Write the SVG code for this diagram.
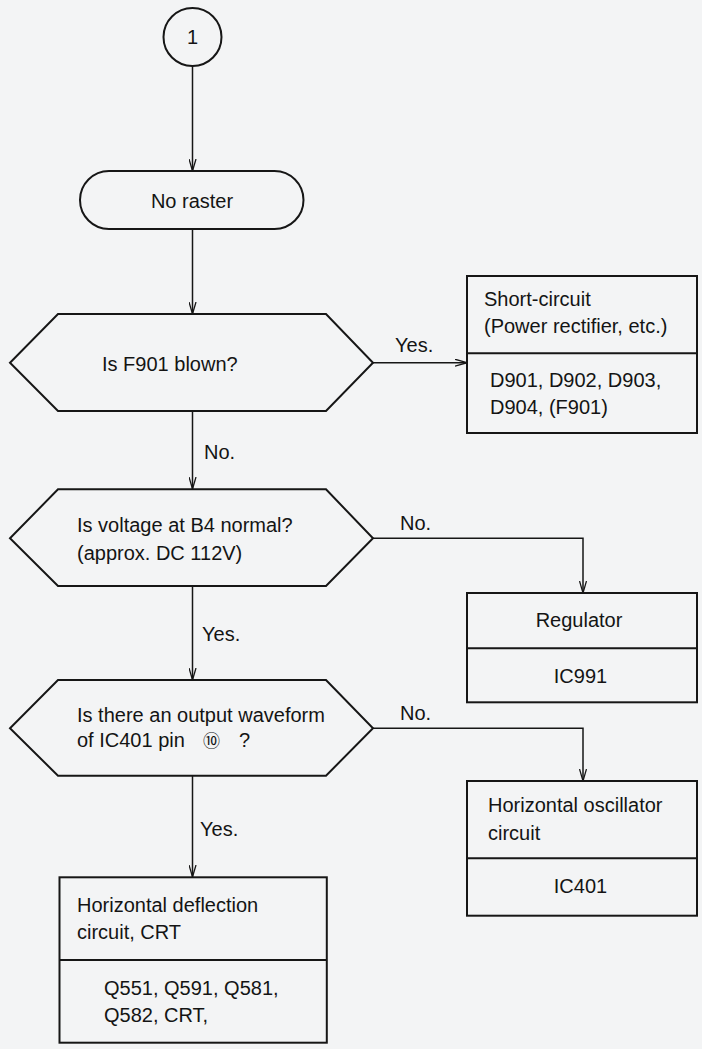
<svg xmlns="http://www.w3.org/2000/svg" width="702" height="1049" viewBox="0 0 702 1049">
<style>
.shape{fill:none;stroke:#161616;stroke-width:2}
.conn{fill:none;stroke:#161616;stroke-width:1.5}
text{font-family:"Liberation Sans",Arial,sans-serif;font-size:20px;fill:#141414}
.c{text-anchor:middle}
</style>
<defs>
<marker id="arr" viewBox="0 0 12 8" refX="12" refY="4" markerWidth="12" markerHeight="8" markerUnits="userSpaceOnUse" orient="auto">
<path d="M0,0.5 L12,4 L0,7.5" fill="none" stroke="#161616" stroke-width="1.3"/>
</marker>
</defs>
<rect width="702" height="1049" fill="#f3f4f5"/>
<g id="connectors">
<line class="conn" x1="192.5" y1="66" x2="192.5" y2="171" marker-end="url(#arr)"/>
<line class="conn" x1="192.5" y1="229" x2="192.5" y2="314" marker-end="url(#arr)"/>
<line class="conn" x1="373" y1="362.7" x2="467" y2="362.7" marker-end="url(#arr)"/>
<text x="395" y="352">Yes.</text>
<line class="conn" x1="192.5" y1="411" x2="192.5" y2="489" marker-end="url(#arr)"/>
<text x="204" y="459">No.</text>
<polyline class="conn" points="373,538.3 583,538.3 583,593" marker-end="url(#arr)"/>
<text x="400" y="530">No.</text>
<line class="conn" x1="192.5" y1="586" x2="192.5" y2="680" marker-end="url(#arr)"/>
<text x="202" y="641">Yes.</text>
<polyline class="conn" points="373,728.3 583,728.3 583,781" marker-end="url(#arr)"/>
<text x="400" y="720">No.</text>
<line class="conn" x1="192.5" y1="776" x2="192.5" y2="877" marker-end="url(#arr)"/>
<text x="200" y="836">Yes.</text>
</g>
<g id="n1">
<circle class="shape" cx="192.5" cy="37" r="29"/>
<text class="c" x="192.5" y="44">1</text>
</g>
<g id="no-raster">
<rect class="shape" x="80" y="171" width="223.5" height="58" rx="29"/>
<text class="c" x="192" y="208">No raster</text>
</g>
<g id="q-f901">
<polygon class="shape" points="58,314 326,314 373,362.7 326,411 58,411 10,362.7"/>
<text x="102" y="371">Is F901 blown?</text>
</g>
<g id="short-circuit">
<rect class="shape" x="467" y="276" width="230" height="157"/>
<line class="shape" x1="467" y1="353.3" x2="697" y2="353.3"/>
<text x="484" y="306">Short-circuit</text>
<text x="484" y="333">(Power rectifier, etc.)</text>
<text x="490" y="387">D901, D902, D903,</text>
<text x="490" y="414">D904, (F901)</text>
</g>
<g id="q-b4">
<polygon class="shape" points="58,489.3 326,489.3 373,538.3 326,586 58,586 10,538.3"/>
<text x="77" y="532">Is voltage at B4 normal?</text>
<text x="77" y="560">(approx. DC 112V)</text>
</g>
<g id="regulator">
<rect class="shape" x="467" y="593" width="230" height="109.3"/>
<line class="shape" x1="467" y1="648.3" x2="697" y2="648.3"/>
<text class="c" x="579" y="627">Regulator</text>
<text class="c" x="580.5" y="683">IC991</text>
</g>
<g id="q-ic401">
<polygon class="shape" points="58,680 326,680 373,728.3 326,775.7 58,775.7 10,728.3"/>
<text x="77" y="722">Is there an output waveform</text>
<text x="77" y="747">of IC401 pin <tspan x="203" font-family="'Noto Sans CJK JP',sans-serif" font-size="17">⑩</tspan><tspan x="239">?</tspan></text>
</g>
<g id="h-osc">
<rect class="shape" x="467" y="781" width="230" height="134.7"/>
<line class="shape" x1="467" y1="858.3" x2="697" y2="858.3"/>
<text x="488" y="812">Horizontal oscillator</text>
<text x="488" y="840">circuit</text>
<text class="c" x="580.5" y="893">IC401</text>
</g>
<g id="h-defl">
<rect class="shape" x="59.5" y="877.3" width="267.3" height="165.4"/>
<line class="shape" x1="59.5" y1="960" x2="326.8" y2="960"/>
<text x="77" y="912">Horizontal deflection</text>
<text x="77" y="939">circuit, CRT</text>
<text x="104" y="995">Q551, Q591, Q581,</text>
<text x="104" y="1022">Q582, CRT,</text>
</g>
</svg>
